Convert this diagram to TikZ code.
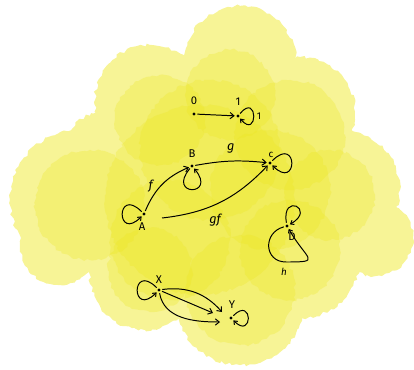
\documentclass[tikz,border=0pt]{standalone}
\usepackage{fontspec}
\setmainfont{Fira Sans}
\usetikzlibrary{arrows.meta,decorations.pathmorphing}
\definecolor{yelbase}{RGB}{247,244,150}
\definecolor{yel}{RGB}{236,230,30}
\begin{document}
\begin{tikzpicture}[x=0.025cm,y=-0.025cm,
  rough/.style={decorate,decoration={random steps,segment length=2.5pt,amplitude=1.1pt}},
  obj/.style={circle,fill=black,inner sep=0pt,minimum size=2.3pt,outer sep=1.2pt},
  lbl/.style={font=\footnotesize,inner sep=0pt},
  elbl/.style={font=\small\itshape,inner sep=0pt},
  arr/.style={line width=0.7pt,-{Straight Barb[length=2.8pt,width=4.5pt]}},
  lp/.style={line width=0.7pt,-{Straight Barb[length=2.2pt,width=3.4pt]},looseness=1,min distance=26pt}
]
\pgfmathsetseed{7}
\useasboundingbox (0,0) rectangle (414,369);
% watercolor blob: light base (union), then darker washes
\path[fill=yelbase,rough] \foreach \cx/\cy/\r in {240/62/56, 150/100/55, 300/112/55, 80/200/70, 340/190/60,
  375/238/38, 200/200/110, 145/275/55, 240/300/65, 300/258/60, 60/245/40,
  210/150/80, 170/250/70, 280/190/70, 110/160/50} {(\cx,\cy) circle[radius=\r]};
\foreach \cx/\cy/\r in {230/95/45, 160/120/45, 290/135/55, 90/205/55, 330/195/45,
  200/200/95, 150/270/42, 240/290/55, 290/250/50, 210/150/70, 170/240/60, 270/190/60}
  \path[fill=yel,fill opacity=0.28,rough] (\cx,\cy) circle[radius=\r];
% objects
\node[obj] (n0) at (194,114) {};
\node[obj] (n1) at (238,116) {};
\node[obj] (nB) at (192,166) {};
\node[obj] (nC) at (270,163) {};
\node[obj] (nA) at (144,214) {};
\node[obj] (nD) at (287,226) {};
\node[obj] (nX) at (159,290) {};
\node[obj] (nY) at (231,318) {};
% object labels
\node[lbl] (t0) at (194,101) {0};
\node[lbl] (t1) at (238,102) {1};
\node[lbl] (tB) at (192,154) {B};
\node[lbl,font=\scriptsize] (tC) at (271,155) {c};
\node[lbl] (tA) at (142,227) {A};
\node[lbl] (tD) at (292,237) {D};
\node[lbl] (tX) at (159,280) {X};
\node[lbl] (tY) at (232,305) {Y};
% arrows
\draw[arr] (n0) -- (n1);
\draw[arr] (nA) to[bend left=22] node[elbl,pos=0.45,left=5pt] (lf) {f} (nB);
\draw[arr] (nB) to[bend left=8] node[elbl,above=5pt] (lg) {g} (nC);
\draw[arr] ([shift={(18,4)}]nA.center) to[bend right=20] node[elbl,pos=0.45,below=6pt] (lgf) {gf} (nC);
\draw[arr] (nX) -- ([shift={(-18,-5)}]nY.center);
\draw[arr] (nX) to[bend left=28] ([shift={(-9,-6)}]nY.center);
\draw[arr] (nX) to[out=-80,in=180] ([shift={(-11,4)}]nY.center);
% identity loops
\draw[lp,min distance=20pt] (n1) to[out=50,in=-50] node[lbl,right=2pt,font=\scriptsize] (l1) {1} (n1);
\draw[lp] (nB) to[out=-130,in=-50] (nB);
\draw[lp] (nC) to[out=45,in=-45] (nC);
\draw[lp] (nA) to[out=135,in=225] (nA);
\draw[lp,min distance=22pt] (nD) to[out=100,in=30] (nD);
\coordinate (hb) at (286,262);
\draw[line width=0.7pt] (nD) to[out=195,in=180,looseness=1.6] (hb);
\draw[lp] (hb) to[out=0,in=-60,looseness=1.3] (nD);
\node[elbl,font=\scriptsize\itshape] (lh) at (284,272) {h};
\draw[lp] (nX) to[out=135,in=225] (nX);
\draw[lp,min distance=20pt] (nY) to[out=45,in=-45] (nY);
\end{tikzpicture}
\end{document}
